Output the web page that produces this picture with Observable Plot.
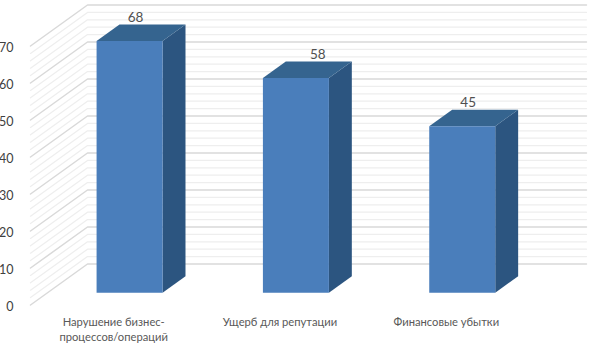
<!DOCTYPE html>
<html>
<head>
<meta charset="utf-8">
<script src="https://cdn.jsdelivr.net/npm/d3@7"></script>
<script src="https://cdn.jsdelivr.net/npm/@observablehq/plot@0.6"></script>
<style>html,body{margin:0;padding:0;background:#fff}svg{display:block}</style>
</head>
<body>
<div id="chart"></div>
<script>
const categories = ["Нарушение бизнес-\nпроцессов/операций", "Ущерб для репутации", "Финансовые убытки"];
const values = [68, 58, 45];
const majorTicks = [0, 10, 20, 30, 40, 50, 60, 70];
const minorTicks = d3.range(0, 70, 2).filter(v => v % 10 !== 0);

// Pseudo-3D projection, expressed in data units
const pxPerSlot = 166.33, pxPerUnit = 3.7, depthX = 57, depthY = 41;
const px = (slot, depth) => slot + depth * depthX / pxPerSlot;
const py = (value, depth) => value + depth * depthY / pxPerUnit;
const barFront = 0.288, barBack = 0.69, barHalf = 33 / pxPerSlot;

const wall = (v, id) => [
  {id, x: px(0, 0), y: py(v, 0)},
  {id, x: px(0, 1), y: py(v, 1)},
  {id, x: px(3, 1), y: py(v, 1)}
];
const majorLines = majorTicks.flatMap(v => wall(v, v));
const minorLines = minorTicks.flatMap(v => wall(v, v));

const faces = [];
values.forEach((v, i) => {
  const c = i + 0.5, l = c - barHalf, r = c + barHalf;
  faces.push(
    {face: `side${i}`, kind: "side", x1: px(r, barFront), y1: py(0, barFront), x2: px(r, barBack), y2: py(0, barBack)},
    {face: `side${i}`, kind: "side", x1: px(r, barFront), y1: py(v, barFront), x2: px(r, barBack), y2: py(v, barBack)},
    {face: `top${i}`, kind: "top", x1: px(l, barFront), y1: py(v, barFront), x2: px(l, barBack), y2: py(v, barBack)},
    {face: `top${i}`, kind: "top", x1: px(r, barFront), y1: py(v, barFront), x2: px(r, barBack), y2: py(v, barBack)},
    {face: `front${i}`, kind: "front", x1: px(l, barFront), y1: py(0, barFront), x2: px(l, barFront), y2: py(v, barFront)},
    {face: `front${i}`, kind: "front", x1: px(r, barFront), y1: py(0, barFront), x2: px(r, barFront), y2: py(v, barFront)}
  );
});
const faceFill = {front: "#4a7ebb", top: "#35648f", side: "#2c5580"};
const labelDx = [-6, 10, -6];

const font = "Lato, 'Open Sans', sans-serif";
const chart = Plot.plot({
  width: 589,
  height: 343,
  margin: 0,
  style: {fontFamily: font, background: "#fff"},
  x: {axis: null, type: "linear", domain: [0, 559 / pxPerSlot], range: [30, 589]},
  y: {axis: null, type: "linear", domain: [0, 304.5 / pxPerUnit], range: [304.5, 0]},
  marks: [
    Plot.line(minorLines, {x: "x", y: "y", z: "id", stroke: "#eeeeee", strokeWidth: 1.25}),
    Plot.line(majorLines, {x: "x", y: "y", z: "id", stroke: "#d9d9d9", strokeWidth: 1.5}),
    Plot.area(faces, {x1: "x1", y1: "y1", x2: "x2", y2: "y2", z: "face", fill: d => faceFill[d.kind], curve: "linear"}),
    Plot.text(majorTicks, {x: () => 0, y: d => d, text: d => String(d), textAnchor: "end", dx: -17, dy: 2, fontSize: 12.5, fill: "#404040"}),
    ...values.map((v, i) => Plot.text([v], {
      x: () => px(i + 0.5, (barFront + barBack) / 2),
      y: d => py(d, (barFront + barBack) / 2),
      text: d => String(d), dx: labelDx[i], dy: -16, fontSize: 13.5, fill: "#505050"
    })),
    Plot.text(categories, {
      x: (d, i) => i + 0.5,
      y: () => 0,
      text: d => d,
      lineAnchor: "top",
      lineHeight: 1.3,
      dy: 11,
      fontSize: 11.2,
      fill: "#595959"
    })
  ]
});
document.getElementById("chart").append(chart);
</script>
</body>
</html>
